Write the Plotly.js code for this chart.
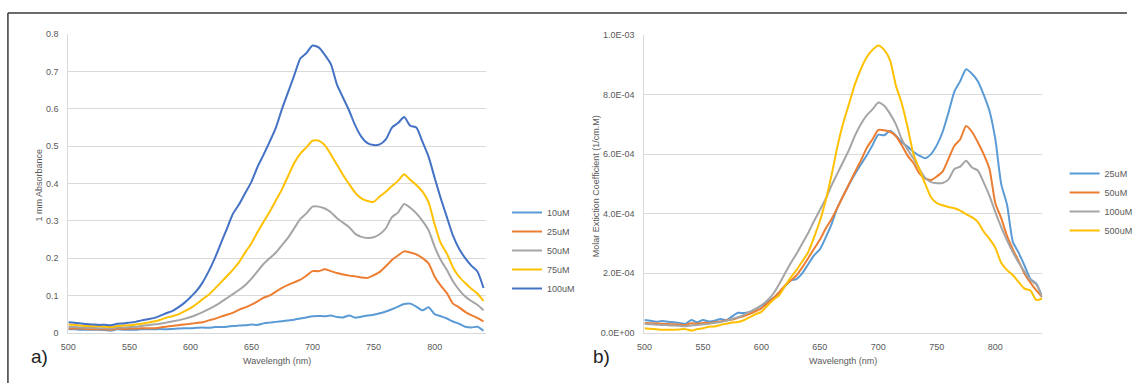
<!DOCTYPE html>
<html>
<head>
<meta charset="utf-8">
<script src="https://cdn.plot.ly/plotly-3.0.1.min.js"></script>
<style>html,body{margin:0;padding:0;background:#fff;}#chart{width:1138px;height:383px;}</style>
</head>
<body>
<div id="chart"></div>
<script>
// Wavelength (nm)
const wavelength = [500,505,510,515,520,525,530,535,540,545,
  550,555,560,565,570,575,580,585,590,595,
  600,605,610,615,620,625,630,635,640,645,
  650,655,660,665,670,675,680,685,690,695,
  700,705,710,715,720,725,730,735,740,745,
  750,755,760,765,770,775,780,785,790,795,
  800,805,810,815,820,825,830,835,840];

// Panel a) 1 mm Absorbance
const seriesA_names = ['10uM','25uM','50uM','75uM','100uM'];
const abs10 = [0.009,0.009,0.008,0.008,0.008,0.008,0.007,0.006,0.009,0.008,
  0.008,0.008,0.009,0.009,0.009,0.010,0.009,0.010,0.011,0.012,
  0.012,0.013,0.014,0.013,0.015,0.015,0.016,0.018,0.019,0.020,
  0.022,0.021,0.025,0.027,0.029,0.031,0.033,0.035,0.038,0.041,
  0.044,0.045,0.044,0.046,0.042,0.041,0.046,0.040,0.043,0.046,
  0.048,0.052,0.057,0.063,0.070,0.077,0.078,0.070,0.060,0.068,
  0.050,0.044,0.038,0.030,0.024,0.016,0.014,0.016,0.005];
const abs25 = [0.012,0.011,0.011,0.010,0.009,0.009,0.009,0.008,0.011,0.010,
  0.011,0.011,0.012,0.012,0.012,0.014,0.016,0.018,0.020,0.022,
  0.024,0.026,0.028,0.033,0.037,0.043,0.048,0.054,0.062,0.068,
  0.075,0.084,0.094,0.100,0.110,0.120,0.128,0.135,0.142,0.153,
  0.165,0.165,0.170,0.165,0.160,0.156,0.153,0.151,0.148,0.147,
  0.154,0.163,0.178,0.195,0.207,0.218,0.215,0.210,0.200,0.186,
  0.150,0.126,0.106,0.078,0.068,0.056,0.047,0.040,0.030];
const abs50 = [0.016,0.015,0.014,0.013,0.013,0.012,0.012,0.011,0.014,0.014,
  0.015,0.016,0.018,0.020,0.022,0.024,0.027,0.030,0.033,0.037,
  0.042,0.048,0.055,0.063,0.072,0.082,0.093,0.104,0.115,0.128,
  0.145,0.165,0.185,0.200,0.215,0.235,0.255,0.280,0.305,0.320,
  0.338,0.338,0.333,0.323,0.307,0.295,0.283,0.265,0.257,0.254,
  0.256,0.264,0.280,0.310,0.322,0.345,0.335,0.320,0.300,0.275,
  0.230,0.195,0.168,0.138,0.115,0.097,0.085,0.075,0.060];
const abs75 = [0.022,0.021,0.019,0.018,0.017,0.017,0.016,0.015,0.018,0.019,
  0.020,0.022,0.024,0.027,0.030,0.034,0.040,0.044,0.049,0.057,
  0.066,0.077,0.090,0.102,0.118,0.135,0.152,0.170,0.190,0.216,
  0.240,0.270,0.298,0.325,0.355,0.385,0.420,0.455,0.480,0.497,
  0.515,0.515,0.503,0.478,0.450,0.423,0.398,0.375,0.360,0.353,
  0.351,0.365,0.378,0.393,0.407,0.425,0.410,0.396,0.378,0.350,
  0.290,0.240,0.212,0.175,0.150,0.133,0.118,0.105,0.085];
const abs100 = [0.028,0.027,0.025,0.023,0.022,0.021,0.021,0.020,0.024,0.025,
  0.027,0.029,0.033,0.036,0.039,0.045,0.052,0.058,0.068,0.080,
  0.095,0.112,0.135,0.165,0.200,0.240,0.280,0.320,0.345,0.375,
  0.405,0.445,0.478,0.513,0.550,0.600,0.645,0.690,0.735,0.750,
  0.770,0.765,0.745,0.720,0.665,0.630,0.595,0.555,0.525,0.508,
  0.503,0.505,0.518,0.550,0.562,0.578,0.555,0.550,0.512,0.472,
  0.415,0.360,0.310,0.260,0.225,0.200,0.180,0.164,0.120];

// Panel b) Molar Extiction Coefficient (1/cm.M)
const seriesB_names = ['25uM','50uM','100uM','500uM'];
const molar25 = [0.43e-4,0.40e-4,0.37e-4,0.39e-4,0.37e-4,0.35e-4,0.33e-4,0.29e-4,0.43e-4,0.35e-4,
  0.43e-4,0.38e-4,0.40e-4,0.46e-4,0.42e-4,0.55e-4,0.67e-4,0.66e-4,0.70e-4,0.79e-4,
  0.90e-4,1.02e-4,1.16e-4,1.32e-4,1.55e-4,1.75e-4,1.80e-4,2.00e-4,2.30e-4,2.60e-4,
  2.80e-4,3.20e-4,3.65e-4,4.20e-4,4.60e-4,4.98e-4,5.33e-4,5.65e-4,5.95e-4,6.30e-4,
  6.65e-4,6.63e-4,6.78e-4,6.62e-4,6.40e-4,6.25e-4,6.08e-4,5.95e-4,5.86e-4,6.00e-4,
  6.30e-4,6.75e-4,7.40e-4,8.10e-4,8.45e-4,8.85e-4,8.70e-4,8.45e-4,8.00e-4,7.45e-4,
  6.50e-4,5.00e-4,4.30e-4,3.05e-4,2.68e-4,2.25e-4,1.80e-4,1.65e-4,1.20e-4];
const molar50 = [0.33e-4,0.32e-4,0.31e-4,0.30e-4,0.29e-4,0.28e-4,0.27e-4,0.26e-4,0.32e-4,0.30e-4,
  0.33e-4,0.33e-4,0.35e-4,0.38e-4,0.42e-4,0.44e-4,0.50e-4,0.56e-4,0.63e-4,0.72e-4,
  0.82e-4,0.98e-4,1.15e-4,1.35e-4,1.58e-4,1.75e-4,1.92e-4,2.20e-4,2.50e-4,2.82e-4,
  3.12e-4,3.50e-4,3.82e-4,4.20e-4,4.60e-4,5.00e-4,5.40e-4,5.78e-4,6.20e-4,6.50e-4,
  6.81e-4,6.80e-4,6.75e-4,6.60e-4,6.30e-4,5.95e-4,5.70e-4,5.35e-4,5.18e-4,5.13e-4,
  5.25e-4,5.42e-4,5.85e-4,6.28e-4,6.50e-4,6.94e-4,6.75e-4,6.40e-4,6.00e-4,5.50e-4,
  4.35e-4,3.85e-4,3.25e-4,2.80e-4,2.40e-4,1.98e-4,1.68e-4,1.42e-4,1.20e-4];
const molar100 = [0.30e-4,0.28e-4,0.27e-4,0.26e-4,0.25e-4,0.24e-4,0.23e-4,0.22e-4,0.24e-4,0.26e-4,
  0.28e-4,0.30e-4,0.33e-4,0.36e-4,0.40e-4,0.46e-4,0.52e-4,0.60e-4,0.70e-4,0.80e-4,
  0.92e-4,1.08e-4,1.30e-4,1.62e-4,1.98e-4,2.33e-4,2.65e-4,3.00e-4,3.35e-4,3.75e-4,
  4.12e-4,4.50e-4,4.95e-4,5.35e-4,5.75e-4,6.15e-4,6.62e-4,7.00e-4,7.30e-4,7.50e-4,
  7.73e-4,7.62e-4,7.35e-4,7.00e-4,6.50e-4,6.15e-4,5.85e-4,5.50e-4,5.20e-4,5.06e-4,
  5.02e-4,5.03e-4,5.15e-4,5.50e-4,5.58e-4,5.78e-4,5.55e-4,5.45e-4,5.05e-4,4.60e-4,
  4.05e-4,3.55e-4,3.10e-4,2.70e-4,2.35e-4,2.05e-4,1.77e-4,1.62e-4,1.20e-4];
const molar500 = [0.15e-4,0.13e-4,0.12e-4,0.10e-4,0.10e-4,0.10e-4,0.11e-4,0.12e-4,0.07e-4,0.12e-4,
  0.15e-4,0.20e-4,0.21e-4,0.26e-4,0.30e-4,0.34e-4,0.36e-4,0.42e-4,0.52e-4,0.62e-4,
  0.70e-4,0.90e-4,1.10e-4,1.25e-4,1.55e-4,1.85e-4,2.10e-4,2.40e-4,2.70e-4,3.20e-4,
  3.75e-4,4.45e-4,5.30e-4,6.25e-4,7.05e-4,7.70e-4,8.35e-4,8.85e-4,9.25e-4,9.50e-4,
  9.65e-4,9.50e-4,9.15e-4,8.30e-4,7.70e-4,6.90e-4,6.00e-4,5.50e-4,5.00e-4,4.55e-4,
  4.35e-4,4.28e-4,4.22e-4,4.18e-4,4.10e-4,3.98e-4,3.88e-4,3.72e-4,3.40e-4,3.15e-4,
  2.85e-4,2.35e-4,2.10e-4,1.93e-4,1.70e-4,1.48e-4,1.42e-4,1.10e-4,1.15e-4];

// Tick labels
const xTicks = [500,550,600,650,700,750,800];
const yTicksA = [0,0.1,0.2,0.3,0.4,0.5,0.6,0.7,0.8];
const yTicksB = [0,2e-4,4e-4,6e-4,8e-4,1e-3];
const yTickTextB = ['0.0E+00','2.0E-04','4.0E-04','6.0E-04','8.0E-04','1.0E-03'];

const colorsA = ['#5B9BD5','#ED7D31','#A5A5A5','#FFC000','#4472C4'];
const colorsB = ['#5B9BD5','#ED7D31','#A5A5A5','#FFC000'];

const W = 1138, H = 383;
const px = x => x / W;
const py = y => 1 - y / H;

const FONT = '"Liberation Sans", Arial, sans-serif';
const GREY = '#595959';

const dataA = [abs10, abs25, abs50, abs75, abs100];
const dataB = [molar25, molar50, molar100, molar500];

const traces = [];
dataA.forEach((ys, i) => traces.push({
  x: wavelength, y: ys, name: seriesA_names[i], type: 'scatter', mode: 'lines',
  xaxis: 'x', yaxis: 'y', legend: 'legend',
  line: {color: colorsA[i], width: 2, shape: 'spline', smoothing: 0.6}
}));
dataB.forEach((ys, i) => traces.push({
  x: wavelength, y: ys, name: seriesB_names[i], type: 'scatter', mode: 'lines',
  xaxis: 'x2', yaxis: 'y2', legend: 'legend2',
  line: {color: colorsB[i], width: 2, shape: 'spline', smoothing: 0.6}
}));

const xCommon = {
  tickvals: xTicks, showgrid: false, zeroline: false, showline: true,
  linecolor: '#d9d9d9', linewidth: 1, ticks: 'outside', ticklen: 5,
  tickcolor: 'rgba(0,0,0,0)', tickfont: {family: FONT, size: 9, color: GREY}
};
const yCommon = {
  showgrid: true, gridcolor: '#d9d9d9', gridwidth: 1, zeroline: false,
  showline: true, linecolor: '#d9d9d9', linewidth: 1, ticks: 'outside',
  ticklen: 7, tickcolor: 'rgba(0,0,0,0)', tickfont: {family: FONT, size: 9, color: GREY}
};

const legendCommon = {
  xanchor: 'left', yanchor: 'top', bgcolor: 'rgba(0,0,0,0)', borderwidth: 0,
  font: {family: FONT, size: 9, color: GREY}, traceorder: 'normal', itemwidth: 30
};

function note(text, x, y, size, color, angle) {
  return {text: text, x: px(x), y: py(y), xref: 'paper', yref: 'paper', showarrow: false,
    xanchor: 'center', yanchor: 'middle', textangle: angle || 0,
    font: {family: FONT, size: size, color: color}};
}

const layout = {
  width: W, height: H,
  margin: {l: 0, r: 0, t: 0, b: 0},
  paper_bgcolor: '#fff', plot_bgcolor: '#fff',
  showlegend: true,
  xaxis: Object.assign({}, xCommon, {domain: [px(69), px(490.7)], range: [500, 842], anchor: 'y'}),
  yaxis: Object.assign({}, yCommon, {domain: [py(332.7), py(34.3)], range: [0, 0.8], tickvals: yTicksA, anchor: 'x'}),
  xaxis2: Object.assign({}, xCommon, {domain: [px(650.7), px(1052.3)], range: [500, 840], anchor: 'y2'}),
  yaxis2: Object.assign({}, yCommon, {domain: [py(332.7), py(35)], range: [0, 1e-3], tickvals: yTicksB, ticktext: yTickTextB, anchor: 'x2'}),
  legend: Object.assign({}, legendCommon, {x: px(512), y: py(198)}),
  legend2: Object.assign({}, legendCommon, {x: px(1075), y: py(159)}),
  annotations: [
    note('1 mm Absorbance', 39, 185, 9, GREY, -90),
    note('Wavelength (nm)', 280, 361, 9, GREY),
    note('Molar Extiction Coefficient (1/cm.M)', 602, 186, 9, GREY, -90),
    note('Wavelength (nm)', 851, 361, 9, GREY),
    note('a)', 40, 356, 19, '#222'),
    note('b)', 607, 356, 19, '#222')
  ],
  shapes: [
    {type: 'line', xref: 'paper', yref: 'paper', x0: px(8), x1: 1, y0: py(13), y1: py(13), line: {color: '#3a3a3a', width: 1.5}},
    {type: 'line', xref: 'paper', yref: 'paper', x0: px(8), x1: px(8), y0: py(13), y1: 0, line: {color: '#3a3a3a', width: 1.5}}
  ]
};

Plotly.newPlot('chart', traces, layout, {displayModeBar: false, staticPlot: true});
</script>
</body>
</html>
